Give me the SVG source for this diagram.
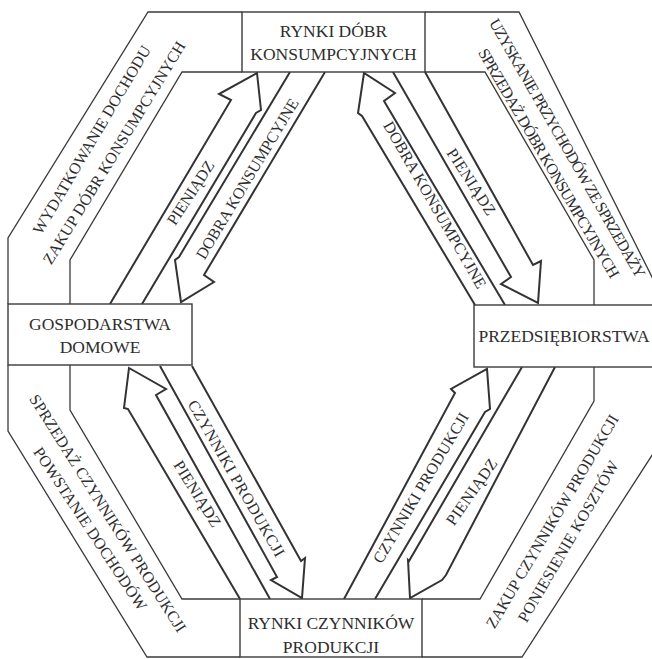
<svg xmlns="http://www.w3.org/2000/svg" width="652" height="659" viewBox="0 0 652 659">
<style>
.frame{fill:none;stroke:#3a3a3a;stroke-width:1.3;stroke-linejoin:miter}
.box{fill:#fff;stroke:#3a3a3a;stroke-width:1.4}
.arr{fill:none;stroke:#333;stroke-width:2;stroke-linejoin:miter}
text{font-family:"Liberation Serif","Times New Roman",serif;fill:#2e2e2e}
.nl{font-size:17.5px;text-anchor:middle}
.lb{font-size:16px;text-anchor:middle}
</style>
<rect width="652" height="659" fill="#fff"/>
<g id="frame">
<polyline class="frame" points="242,12 148,12 8,238 8,304"/>
<polyline class="frame" points="425,12 519,12 661,295"/>
<polyline class="frame" points="8,365 8,431 147,657 240,657"/>
<polyline class="frame" points="422,657 522,657 665,435"/>
<polyline class="frame" points="242,72 182,72 70,260 70,304"/>
<polyline class="frame" points="425,72 485,72 594,260 594,305"/>
<polyline class="frame" points="70,365 70,410 182,599 240,599"/>
<polyline class="frame" points="594,367 594,401 480,599 422,599"/>
</g>
<g id="frame-labels">
<text class="lb" transform="translate(92,140) rotate(-59.4)" y="5" textLength="216">WYDATKOWANIE DOCHODU</text>
<text class="lb" transform="translate(114.5,153) rotate(-58.5)" y="5" textLength="258">ZAKUP DÓBR KONSUMPCYJNYCH</text>
<text class="lb" transform="translate(567,148.5) rotate(60)" y="5" textLength="296">UZYSKANIE PRZYCHODÓW ZE SPRZEDAŻY</text>
<text class="lb" transform="translate(548.5,163.5) rotate(59.6)" y="5" textLength="263">SPRZEDAŻ DÓBR KONSUMPCYJNYCH</text>
<text class="lb" transform="translate(107.5,513.5) rotate(57.6)" y="5" textLength="278">SPRZEDAŻ CZYNNIKÓW PRODUKCJI</text>
<text class="lb" transform="translate(90,529) rotate(56.5)" y="5" textLength="192">POWSTANIE DOCHODÓW</text>
<text class="lb" transform="translate(552.5,521.5) rotate(-59.4)" y="5" textLength="245">ZAKUP CZYNNIKÓW PRODUKCJI</text>
<text class="lb" transform="translate(568.5,541.5) rotate(-59.7)" y="5" textLength="184">PONIESIENIE KOSZTÓW</text>
</g>
<g id="connectors">
<polyline class="arr" points="110,304 231,100 219,94 257,73 261,110 256,113 142,304"/>
<polyline class="arr" points="290,72 179,257 175,260 181,302 214,282 204,275 325,72"/>
<polyline class="arr" points="475,305 362,116 358,113 364,73 395,93 384,101 505,305"/>
<polyline class="arr" points="393,72 511,277 501,284 538,303 541,261 533,265 425,72"/>
<polyline class="arr" points="240,599 128,409 124,408 129,368 166,389 156,395 270,599"/>
<polyline class="arr" points="160,366 277,577 271,580 302,598 305,558 301,561 192,366"/>
<polyline class="arr" points="344,599 455,393 451,389 487,369 490,409 485,412 375,599"/>
<polyline class="arr" points="522,367 409,561 408,560 410,598 442,580 446,575 555,367"/>
<text class="lb" transform="translate(191,193) rotate(-57)" y="5" textLength="73">PIENIĄDZ</text>
<text class="lb" transform="translate(247.5,179) rotate(-59)" y="5" textLength="184">DOBRA KONSUMPCYJNE</text>
<text class="lb" transform="translate(434.5,205) rotate(60)" y="5" textLength="190">DOBRA KONSUMPCYJNE</text>
<text class="lb" transform="translate(471,182) rotate(57)" y="5" textLength="76">PIENIĄDZ</text>
<text class="lb" transform="translate(197,494) rotate(58)" y="5" textLength="75">PIENIĄDZ</text>
<text class="lb" transform="translate(236,478.5) rotate(60)" y="5" textLength="178">CZYNNIKI PRODUKCJI</text>
<text class="lb" transform="translate(421,488) rotate(-59.3)" y="5" textLength="172">CZYNNIKI PRODUKCJI</text>
<text class="lb" transform="translate(472,492) rotate(-55)" y="5" textLength="77">PIENIĄDZ</text>
</g>
<g id="rynki-dobr">
<rect class="box" x="242" y="12" width="183" height="60"/>
<text class="nl" x="333.5" y="37">RYNKI DÓBR</text>
<text class="nl" x="333.5" y="60">KONSUMPCYJNYCH</text>
</g>
<g id="gospodarstwa">
<rect class="box" x="8" y="304" width="184" height="61"/>
<text class="nl" x="100" y="330">GOSPODARSTWA</text>
<text class="nl" x="100" y="353">DOMOWE</text>
</g>
<g id="przedsiebiorstwa">
<rect class="box" x="474" y="305" width="190" height="62"/>
<text class="nl" x="564" y="342">PRZEDSIĘBIORSTWA</text>
</g>
<g id="rynki-czynnikow">
<rect class="box" x="240" y="599" width="182" height="58"/>
<text class="nl" x="331" y="629">RYNKI CZYNNIKÓW</text>
<text class="nl" x="331" y="653">PRODUKCJI</text>
</g>
</svg>
